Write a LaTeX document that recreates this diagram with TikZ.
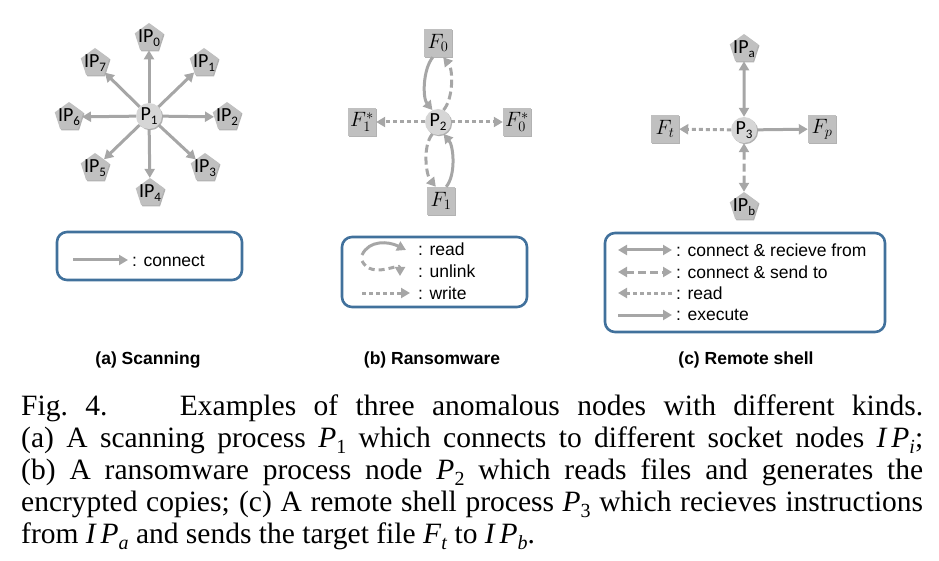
\documentclass[tikz,border=0pt]{standalone}
\usepackage{fontspec}
\setmainfont{Liberation Serif}
\newfontfamily\arialf{Liberation Sans}
\newfontfamily\calib{Carlito}
\usetikzlibrary{arrows.meta,shapes.geometric,shadows}
\definecolor{ngray}{RGB}{192,192,192}
\definecolor{cgray}{RGB}{214,214,214}
\definecolor{agray}{RGB}{166,166,166}
\definecolor{lblue}{RGB}{65,113,156}
\newcommand\csub[1]{\raisebox{-0.4ex}{\fontsize{13}{13}\selectfont #1}}
\newcommand\tsub[1]{\raisebox{-0.22em}{\fontsize{20}{20}\selectfont #1}}
\tikzset{
  shd/.style={drop shadow={shadow xshift=1.2pt,shadow yshift=-1.2pt,opacity=0.3,fill=black}},
  ipnode/.style={regular polygon, regular polygon sides=5, fill=ngray, minimum size=30pt, inner sep=-4pt, font=\calib\fontsize{20}{20}\selectfont, shd},
  pnode/.style={circle, fill=cgray, minimum size=26pt, inner sep=-1.5pt, font=\calib\fontsize{20}{20}\selectfont, shd},
  fnode/.style={rectangle, fill=ngray, minimum size=28pt, inner sep=0pt, font=\fontsize{21}{21}\selectfont, shd},
  conn/.style={draw=agray, line width=3pt, -{Triangle[length=9pt,width=10pt]}},
  dconn/.style={draw=agray, line width=3pt, {Triangle[length=9pt,width=10pt]}-{Triangle[length=9pt,width=10pt]}},
  dashstyle/.style={dash pattern=on 8pt off 4pt},
  dotstyle/.style={dash pattern=on 4pt off 3pt},
  legbox/.style={draw=lblue, line width=2.6pt, rounded corners=10pt, inner sep=0pt},
  legtext/.style={font=\arialf\fontsize{17.5}{20}\selectfont, inner sep=0pt, anchor=west},
  subcap/.style={font=\arialf\bfseries\fontsize{17.5}{20}\selectfont, inner sep=0pt},
  capline/.style={font=\fontsize{29.5}{32}\selectfont, inner sep=0pt, anchor=base west}
}
\begin{document}
\begin{tikzpicture}[x=1pt,y=-1pt]
\useasboundingbox (0,0) rectangle (939,561);
% ---------- (a) ----------
\node[pnode] (P1) at (149,116) {P\csub{1}};
\node[ipnode] (IP0) at (149,38) {IP\csub{0}};
\node[ipnode] (IP1) at (204,63) {IP\csub{1}};
\node[ipnode] (IP2) at (227,117) {IP\csub{2}};
\node[ipnode] (IP3) at (205,168) {IP\csub{3}};
\node[ipnode] (IP4) at (150,193) {IP\csub{4}};
\node[ipnode] (IP5) at (95,168) {IP\csub{5}};
\node[ipnode] (IP6) at (69,117) {IP\csub{6}};
\node[ipnode] (IP7) at (95,63) {IP\csub{7}};
\foreach \i in {0,...,7} \draw[conn] (P1) -- (IP\i);
\node[legbox, minimum width=185pt, minimum height=48pt] (lega) at (149.5,256) {};
\coordinate (la1) at (73,260);
\coordinate (la2) at (128,260);
\draw[conn] (la1) -- (la2);
\node[legtext] (lat) at (132,261) {: connect};
\node[subcap] (sa) at (148,360) {(a) Scanning};
% ---------- (b) ----------
\node[pnode] (P2) at (438,122) {P\csub{2}};
\node[fnode] (F0) at (438,43) {$F_0$};
\node[fnode] (F1) at (441,201) {$F_1$};
\node[fnode] (F1s) at (362,122) {$F_1^*$};
\node[fnode] (F0s) at (517,122) {$F_0^*$};
\draw[conn,dotstyle] (P2) -- (F1s);
\draw[conn,dotstyle] (P2) -- (F0s);
\draw[conn] (F0.250) .. controls +(-10,12) and +(-10,-12) .. (P2.115);
\draw[conn,dashstyle] (P2.65) .. controls +(10,-12) and +(10,12) .. (F0.290);
\draw[conn,dashstyle] (P2.245) .. controls +(-10,12) and +(-10,-12) .. (F1.110);
\draw[conn] (F1.70) .. controls +(10,-12) and +(10,12) .. (P2.295);
\node[legbox, minimum width=185pt, minimum height=70pt] (legb) at (434.5,272) {};
\coordinate (lb1a) at (362,255);
\coordinate (lb1b) at (406,250);
\draw[conn] (lb1a) .. controls (369,240) and (388,241) .. (lb1b);
\coordinate (lb2a) at (362,261);
\coordinate (lb2b) at (400,276);
\draw[conn,dashstyle,dash pattern=on 6pt off 4pt] (lb2a) .. controls (372,280) and (400,262) .. (lb2b);
\coordinate (lb3a) at (362,293);
\coordinate (lb3b) at (410,293);
\draw[conn,dotstyle] (lb3a) -- (lb3b);
\node[legtext] (lbt1) at (418,249) {: read};
\node[legtext] (lbt2) at (418,271) {: unlink};
\node[legtext] (lbt3) at (418,293) {: write};
\node[subcap] (sb) at (432,360) {(b) Ransomware};
% ---------- (c) ----------
\node[pnode] (P3) at (744,130) {P\csub{3}};
\node[ipnode] (IPa) at (744,49) {IP\csub{a}};
\node[ipnode] (IPb) at (744,207) {IP\csub{b}};
\node[fnode] (Ft) at (665,129) {$F_t$};
\node[fnode] (Fp) at (822,129) {$F_p$};
\draw[dconn] (IPa) -- (P3);
\draw[dconn,dashstyle] (P3) -- (IPb);
\draw[conn,dotstyle] (P3) -- (Ft);
\draw[conn] (P3) -- (Fp);
\node[legbox, minimum width=280pt, minimum height=99pt] (legc) at (745,282.5) {};
\coordinate (lc1a) at (618,250); \coordinate (lc1b) at (672,250);
\coordinate (lc2a) at (618,272); \coordinate (lc2b) at (672,272);
\coordinate (lc3a) at (618,293); \coordinate (lc3b) at (672,293);
\coordinate (lc4a) at (618,315); \coordinate (lc4b) at (672,315);
\draw[dconn] (lc1a) -- (lc1b);
\draw[dconn,dashstyle] (lc2a) -- (lc2b);
\draw[conn,dotstyle] (lc3b) -- (lc3a);
\draw[conn] (lc4a) -- (lc4b);
\node[legtext] (lct1) at (676,250) {: connect \& recieve from};
\node[legtext] (lct2) at (676,272) {: connect \& send to};
\node[legtext] (lct3) at (676,293) {: read};
\node[legtext] (lct4) at (676,315) {: execute};
\node[subcap] (sc) at (746,360) {(c) Remote shell};
% ---------- caption ----------
\node[capline] (cap1) at (21,415) {\makebox[902pt][s]{Fig.\ 4.\hspace{1.1em} Examples of three anomalous nodes with different kinds.}};
\node[capline] (cap2) at (21,447) {\makebox[902pt][s]{(a) A scanning process \textit{P}\tsub{1} which connects to different socket nodes \textit{I\,P}\tsub{\textit{i}};}};
\node[capline] (cap3) at (21,479) {\makebox[902pt][s]{(b) A ransomware process node \textit{P}\tsub{2} which reads files and generates the}};
\node[capline] (cap4) at (21,511) {\makebox[902pt][s]{encrypted copies; (c) A remote shell process \textit{P}\tsub{3} which recieves instructions}};
\node[capline] (cap5) at (21,543) {from \textit{I\,P}\tsub{\textit{a}} and sends the target file \textit{F}\tsub{\textit{t}} to \textit{I\,P}\tsub{\textit{b}}.};
\end{tikzpicture}
\end{document}
